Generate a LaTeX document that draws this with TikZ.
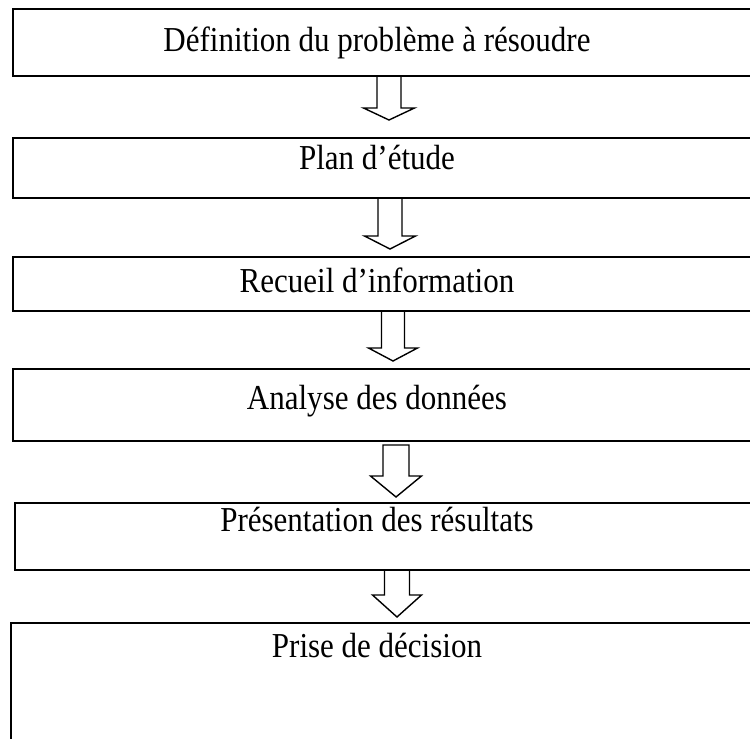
\documentclass[tikz,border=0pt]{standalone}
\usepackage{fontspec}
\setmainfont[FakeStretch=0.886]{Liberation Serif}
\begin{document}
\begin{tikzpicture}[x=1pt,y=-1pt,
  stagebox/.style={draw=black, line width=1.8pt, rectangle, anchor=north west,
    minimum width=760pt, inner sep=0pt},
  stagetext/.style={anchor=base, inner sep=0pt, font=\fontsize{35}{42}\selectfont},
  blockarrow/.style={draw=black, line width=1.4pt, line join=miter}]
\useasboundingbox (0,0) rectangle (750,739);
\clip (0,0) rectangle (750,739);

% stage boxes (they run past the right edge of the page)
\node[stagebox, minimum height=67pt]  (b1) at (12,8)    {};
\node[stagebox, minimum height=60pt]  (b2) at (12,137)  {};
\node[stagebox, minimum height=54pt]  (b3) at (12,256)  {};
\node[stagebox, minimum height=72pt]  (b4) at (12,368)  {};
\node[stagebox, minimum height=67pt]  (b5) at (14,502)  {};
\node[stagebox, minimum height=140pt] (b6) at (10,622)  {};

% stage labels
\node[stagetext] (t1) at (377,51)  {Définition du problème à résoudre};
\node[stagetext] (t2) at (377,169) {Plan d’étude};
\node[stagetext] (t3) at (377,292) {Recueil d’information};
\node[stagetext] (t4) at (377,409) {Analyse des données};
\node[stagetext] (t5) at (377,531) {Présentation des résultats};
\node[stagetext] (t6) at (377,657) {Prise de décision};

% hollow block arrows: shaft top, head base, tip
\coordinate (a1) at (389,75);  \coordinate (h1) at (389,108); \coordinate (p1) at (389,120);
\coordinate (a2) at (390,197); \coordinate (h2) at (390,236); \coordinate (p2) at (390,249);
\coordinate (a3) at (393,310); \coordinate (h3) at (393,348); \coordinate (p3) at (393,361);
\coordinate (a4) at (396,445); \coordinate (h4) at (396,476); \coordinate (p4) at (396,497);
\coordinate (a5) at (397,569); \coordinate (h5) at (397,595); \coordinate (p5) at (397,617);

\draw[blockarrow] ([xshift=-12pt]a1) -- ([xshift=-12pt]a1 |- h1) -- ([xshift=-25.5pt]h1)
  -- (p1) -- ([xshift=25.5pt]h1) -- ([xshift=12pt]a1 |- h1) -- ([xshift=12pt]a1);
\draw[blockarrow] ([xshift=-12pt]a2) -- ([xshift=-12pt]a2 |- h2) -- ([xshift=-25.5pt]h2)
  -- (p2) -- ([xshift=25.5pt]h2) -- ([xshift=12pt]a2 |- h2) -- ([xshift=12pt]a2);
\draw[blockarrow] ([xshift=-11.5pt]a3) -- ([xshift=-11.5pt]a3 |- h3) -- ([xshift=-24.5pt]h3)
  -- (p3) -- ([xshift=24.5pt]h3) -- ([xshift=11.5pt]a3 |- h3) -- ([xshift=11.5pt]a3);
\draw[blockarrow] ([xshift=-13pt]a4) -- ([xshift=-13pt]a4 |- h4) -- ([xshift=-25.5pt]h4)
  -- (p4) -- ([xshift=25.5pt]h4) -- ([xshift=13pt]a4 |- h4) -- ([xshift=13pt]a4) -- cycle;
\draw[blockarrow] ([xshift=-12.5pt]a5) -- ([xshift=-12.5pt]a5 |- h5) -- ([xshift=-24.5pt]h5)
  -- (p5) -- ([xshift=24.5pt]h5) -- ([xshift=12.5pt]a5 |- h5) -- ([xshift=12.5pt]a5);
\end{tikzpicture}
\end{document}
